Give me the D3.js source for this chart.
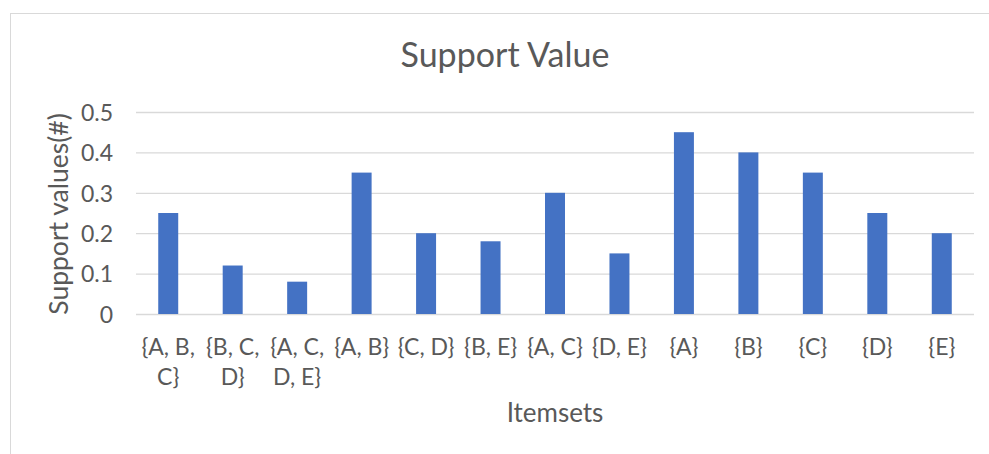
<!DOCTYPE html>
<html>
<head>
<meta charset="utf-8">
<script src="https://cdn.jsdelivr.net/npm/d3@7"></script>
<style>
  html, body { margin: 0; padding: 0; background: #fff; }
  svg { display: block; }
</style>
</head>
<body>
<svg id="chart" width="989" height="454"></svg>
<script>
const categories = ["{A, B, C}", "{B, C, D}", "{A, C, D, E}", "{A, B}", "{C, D}", "{B, E}", "{A, C}", "{D, E}", "{A}", "{B}", "{C}", "{D}", "{E}"];
const supportValues = [0.25, 0.12, 0.08, 0.35, 0.2, 0.18, 0.3, 0.15, 0.45, 0.4, 0.35, 0.25, 0.2];
const yTicks = [0, 0.1, 0.2, 0.3, 0.4, 0.5];
const chartTitle = "Support Value";
const xTitle = "Itemsets";
const yTitle = "Support values(#)";

const FONT = "Lato, 'Open Sans', sans-serif";
const TEXT = "#595959";
const svg = d3.select("#chart");
const plot = { left: 136, right: 974, top: 112, bottom: 314 };

// chart border
svg.append("rect")
  .attr("x", 10.5).attr("y", 13.5).attr("width", 1200).attr("height", 1200)
  .attr("fill", "#fff").attr("stroke", "#d9d9d9").attr("stroke-width", 1);

const x = d3.scaleBand().domain(categories)
  .range([plot.left, plot.right]).paddingInner(0.69).paddingOuter(0.345);
const y = d3.scaleLinear().domain([0, 0.5]).range([plot.bottom, plot.top]);

// gridlines + y tick labels
const yAxis = d3.axisLeft(y).tickValues(yTicks).tickSize(-(plot.right - plot.left))
  .tickFormat(d => d === 0 ? "0" : d3.format(".1f")(d)).tickPadding(23);
const gy = svg.append("g").attr("transform", `translate(${plot.left},0)`).call(yAxis);
gy.select(".domain").remove();
gy.selectAll(".tick line").attr("stroke", "#d9d9d9").attr("stroke-width", 1.3);
gy.selectAll(".tick text").attr("fill", TEXT).style("font-family", FONT).style("font-size", "23px")
  .attr("dy", "0.36em");

// bars
svg.append("g").selectAll("rect").data(supportValues).join("rect")
  .attr("x", (d, i) => x(categories[i]))
  .attr("y", d => y(d))
  .attr("width", x.bandwidth())
  .attr("height", d => y(0) - y(d))
  .attr("fill", "#4472c4");

// x axis labels with wrapping
const xAxis = d3.axisBottom(x).tickSize(0).tickPadding(0);
const gx = svg.append("g").attr("transform", `translate(0,${plot.bottom})`).call(xAxis);
gx.select(".domain").remove();
gx.selectAll(".tick text").each(function(d) {
  const t = d3.select(this);
  t.text(null).attr("fill", TEXT).style("font-family", FONT).style("font-size", "23px")
    .attr("y", 0).attr("dy", null);
  const words = d.split(" ");
  const maxW = x.step() - 2;
  let lines = [], cur = "";
  const probe = t.append("tspan");
  words.forEach(w => {
    const test = cur ? cur + " " + w : w;
    probe.text(test);
    if (cur && probe.node().getComputedTextLength() > maxW) { lines.push(cur); cur = w; }
    else cur = test;
  });
  lines.push(cur);
  probe.remove();
  lines.forEach((ln, i) => {
    t.append("tspan").attr("x", 0).attr("y", 41 + i * 30).text(ln);
  });
});

// titles
svg.append("text").attr("x", 505).attr("y", 67).attr("text-anchor", "middle")
  .attr("fill", TEXT).style("font-family", FONT).style("font-size", "34px").text(chartTitle);
svg.append("text").attr("x", (plot.left + plot.right) / 2).attr("y", 422).attr("text-anchor", "middle")
  .attr("fill", TEXT).style("font-family", FONT).style("font-size", "26px").text(xTitle);
svg.append("text").attr("transform", `translate(68,${(plot.top + plot.bottom) / 2 + 1}) rotate(-90)`)
  .attr("text-anchor", "middle")
  .attr("fill", TEXT).style("font-family", FONT).style("font-size", "26.5px").text(yTitle);
</script>
</body>
</html>
